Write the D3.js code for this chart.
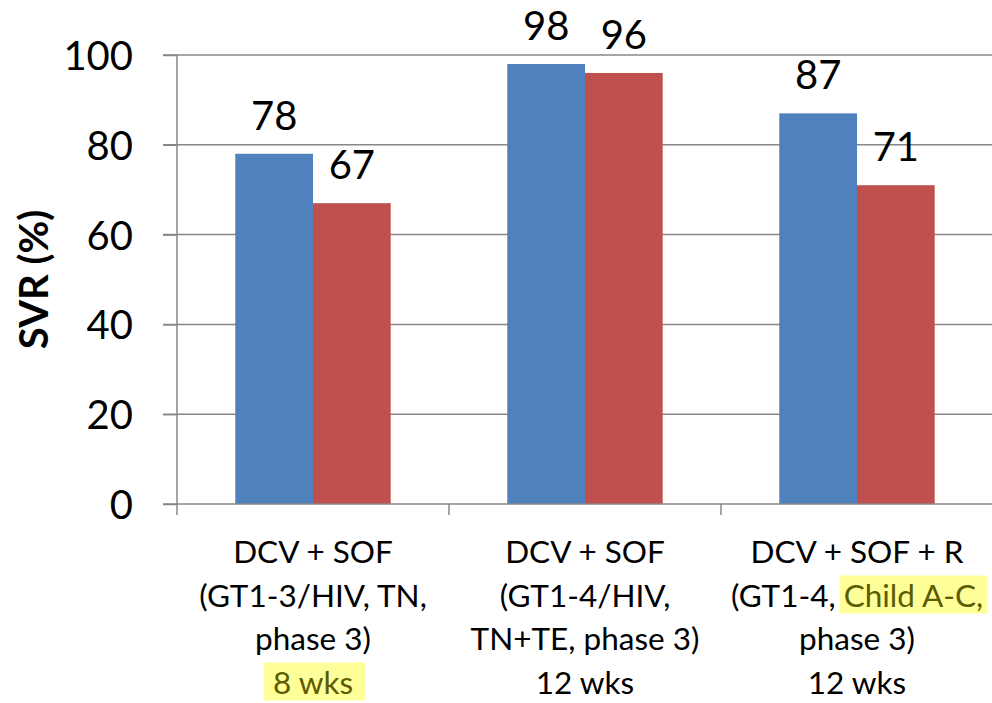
<!DOCTYPE html>
<html>
<head>
<meta charset="utf-8">
<script src="https://cdn.jsdelivr.net/npm/d3@7/dist/d3.min.js"></script>
<style>
  html, body { margin: 0; padding: 0; background: #fff; }
  svg { display: block; font-family: Lato, "Open Sans", sans-serif; }
</style>
</head>
<body>
<svg id="chart" width="992" height="703"></svg>
<script>
// SVR by regimen, two series per group (blue / red bars)

const categories = ["cat1", "cat2", "cat3"];
const categoryLines = [
  ["DCV + SOF", "(GT1-3/HIV, TN,", "phase 3)", "8 wks"],
  ["DCV + SOF", "(GT1-4/HIV,", "TN+TE, phase 3)", "12 wks"],
  ["DCV + SOF + R", "(GT1-4, Child A-C,", "phase 3)", "12 wks"],
];
// which pieces of the labels are marked with a yellow highlight
const highlights = [
  { cat: 0, line: 3, text: "8 wks", padL: 9, padR: 12 },
  { cat: 2, line: 1, text: "Child A-C,", padL: 4, padR: 4 },
];
const seriesNames = ["s1", "s2"];
const seriesA = [78, 98, 87];
const seriesB = [67, 96, 71];
const yTicks = [0, 20, 40, 60, 80, 100];
const COLORS = ["#4f81bd", "#c0504d"];

const svg = d3.select("#chart");

const x0 = d3.scaleBand().domain(categories).range([177, 993]).padding(0);
const x1 = d3.scaleBand().domain(seriesNames)
  .range([0, x0.bandwidth()]).paddingInner(0).paddingOuter(0.75);
const y = d3.scaleLinear().domain([0, 100]).range([504, 55]);

// gridlines + y ticks
svg.append("g")
  .selectAll("line")
  .data(yTicks.filter(t => t > 0))
  .join("line")
  .attr("x1", 163).attr("x2", 993)
  .attr("y1", d => y(d)).attr("y2", d => y(d))
  .attr("stroke", "#878787").attr("stroke-width", 1.5);

const yAxis = d3.axisLeft(y).tickValues(yTicks).tickSize(14).tickPadding(30);
const yg = svg.append("g").attr("transform", "translate(177,0)").call(yAxis);
yg.select(".domain").remove();
yg.selectAll(".tick line").attr("stroke", "#878787").attr("stroke-width", 1.5);
yg.selectAll(".tick text")
  .attr("font-family", "Lato, sans-serif")
  .attr("font-size", 40).attr("fill", "#000").attr("dy", "0.36em");

// bars
const rows = categories.map((c, i) => ({ cat: c, vals: [seriesA[i], seriesB[i]] }));
const groups = svg.append("g").selectAll("g")
  .data(rows).join("g")
  .attr("transform", d => `translate(${x0(d.cat)},0)`);

groups.selectAll("rect")
  .data(d => d.vals.map((v, k) => ({ key: seriesNames[k], v, k })))
  .join("rect")
  .attr("x", d => x1(d.key))
  .attr("width", x1.bandwidth())
  .attr("y", d => y(d.v))
  .attr("height", d => y(0) - y(d.v))
  .attr("fill", d => COLORS[d.k]);

groups.selectAll("text")
  .data(d => d.vals.map((v, k) => ({ key: seriesNames[k], v, k })))
  .join("text")
  .attr("x", d => x1(d.key) + x1.bandwidth() / 2)
  .attr("y", d => y(d.v) - 24)
  .attr("text-anchor", "middle")
  .attr("font-size", 40)
  .attr("fill", "#000")
  .text(d => d.v);

// x axis: baseline, y-axis line, category dividers
const axisColor = "#878787";
svg.append("line")
  .attr("x1", 163).attr("x2", 993).attr("y1", y(0)).attr("y2", y(0))
  .attr("stroke", axisColor).attr("stroke-width", 1.5);
svg.append("line")
  .attr("x1", 177).attr("x2", 177).attr("y1", y(100)).attr("y2", y(0) + 11)
  .attr("stroke", axisColor).attr("stroke-width", 1.5);
svg.append("g").selectAll("line")
  .data(categories.slice(1))
  .join("line")
  .attr("x1", d => x0(d)).attr("x2", d => x0(d))
  .attr("y1", y(0)).attr("y2", y(0) + 11)
  .attr("stroke", axisColor).attr("stroke-width", 1.5);

// category labels
const lineY0 = 563, lineStep = 43.5;
const labelG = svg.append("g");
categories.forEach((c, i) => {
  const cx = x0(c) + x0.bandwidth() / 2;
  categoryLines[i].forEach((line, j) => {
    const by = lineY0 + j * lineStep;
    const hl = highlights.find(h => h.cat === i && h.line === j);
    const t = labelG.append("text")
      .attr("x", cx).attr("y", by)
      .attr("text-anchor", "middle")
      .attr("font-size", 31.5)
      .attr("fill", "#000");
    if (!hl) { t.text(line); return; }
    const start = line.indexOf(hl.text);
    const pre = line.slice(0, start);
    const post = line.slice(start + hl.text.length);
    if (pre) t.append("tspan").text(pre);
    t.append("tspan").attr("fill", "#5c5c00").text(hl.text);
    if (post) t.append("tspan").text(post);
    const node = t.node();
    const sx = node.getStartPositionOfChar(start).x;
    const w = node.getSubStringLength(start, hl.text.length);
    labelG.insert("rect", () => node)
      .attr("x", sx - hl.padL).attr("y", by - 31)
      .attr("width", w + hl.padL + hl.padR).attr("height", 38)
      .attr("fill", "#ffff99");
  });
});

// y title
svg.append("text")
  .attr("transform", `translate(48,${(y(0) + y(100)) / 2}) rotate(-90)`)
  .attr("text-anchor", "middle")
  .attr("font-size", 40)
  .attr("font-weight", "bold")
  .attr("fill", "#000")
  .text("SVR (%)");
</script>
</body>
</html>
